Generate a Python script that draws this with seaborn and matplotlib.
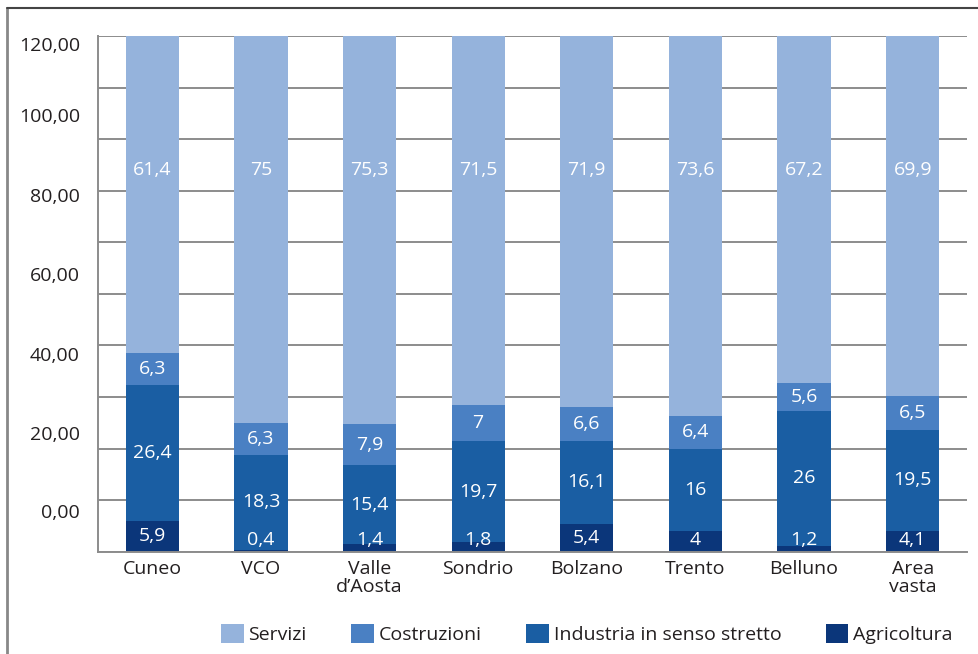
import matplotlib
matplotlib.use("Agg")
import matplotlib.pyplot as plt
from matplotlib.lines import Line2D
from matplotlib.patches import Patch
import seaborn as sns
import pandas as pd
import numpy as np

# ---- data ----
categories = ["Cuneo", "VCO", "Valle\nd\u2019Aosta", "Sondrio", "Bolzano", "Trento", "Belluno", "Area\nvasta"]
agricoltura = [5.9, 0.4, 1.4, 1.8, 5.4, 4.0, 1.2, 4.1]
industria = [26.4, 18.3, 15.4, 19.7, 16.1, 16.0, 26.0, 19.5]
costruzioni = [6.3, 6.3, 7.9, 7.0, 6.6, 6.4, 5.6, 6.5]
servizi = [61.4, 75.0, 75.3, 71.5, 71.9, 73.6, 67.2, 69.9]
series_names = ["Agricoltura", "Industria in senso stretto", "Costruzioni", "Servizi"]
ytick_labels = ["0,00", "20,00", "40,00", "60,00", "80,00", "100,00", "120,00"]

# ---- style ----
colors = {"Servizi": "#95B3DC", "Costruzioni": "#4A80C3",
          "Industria in senso stretto": "#1A5EA3", "Agricoltura": "#0B367A"}
ytick_pos = [7.9, 23.0, 38.4, 53.8, 69.2, 84.7, 98.4]
servizi_label_y = 74.0
min_label_y = 2.2
text_color = "#231F20"
grid_color = "#8C8C8C"

sns.set_theme(style="white")
plt.rcParams["font.family"] = ["Open Sans", "DejaVu Sans"]

df = pd.DataFrame({"cat": categories, "Agricoltura": agricoltura,
                   "Industria in senso stretto": industria,
                   "Costruzioni": costruzioni, "Servizi": servizi})
cum = df[series_names].cumsum(axis=1)

fig = plt.figure(figsize=(9.79, 6.54), dpi=100)
ax = fig.add_axes([98/979, 1-551.7/654, (967-98)/979, (551.7-36)/654])

# grid lines behind bars
for v in range(0, 101, 10):
    ax.axhline(v, color=grid_color, lw=1.4, zorder=0)

# stacked bars: draw cumulative totals from top series downwards
for name in reversed(series_names):
    sns.barplot(x=df["cat"], y=cum[name], color=colors[name], width=0.49,
                saturation=1, ax=ax, zorder=2, order=categories,
                linewidth=0, edgecolor="none")

# value labels
def fmt(v):
    s = f"{v:.1f}".replace(".", ",")
    return s[:-2] if s.endswith(",0") else s

vals = df[series_names]
for i in range(len(categories)):
    bottom = 0.0
    for name in series_names:
        v = vals[name].iloc[i]
        if name == "Servizi":
            y = servizi_label_y
        else:
            y = max(bottom + v / 2, min_label_y)
        ax.text(i, y, fmt(v), ha="center", va="center", color="white",
                fontsize=14, zorder=5, clip_on=True)
        bottom += v

ax.set_ylim(0, 100)
ax.set_xlim(-0.5, len(categories) - 0.5)
ax.set_yticks(ytick_pos)
ax.set_yticklabels(ytick_labels)
ax.tick_params(axis="y", length=0, pad=13, labelsize=14, labelcolor=text_color)
ax.tick_params(axis="x", length=0, pad=6, labelsize=14, labelcolor=text_color)
for lbl in ax.get_xticklabels():
    lbl.set_linespacing(1.0)
ax.set_xlabel("")
ax.set_ylabel("")
for side in ["top", "right"]:
    ax.spines[side].set_visible(False)
for side in ["left", "bottom"]:
    ax.spines[side].set_color(grid_color)
    ax.spines[side].set_linewidth(1.4)
    ax.spines[side].set_zorder(3)

handles = [Patch(facecolor=colors[n], edgecolor="none", label=n) for n in reversed(series_names)]
fig.legend(handles=handles, loc="center", bbox_to_anchor=(587/979, 1-634/654), ncol=4,
           frameon=False, fontsize=14, handlelength=1.15, handleheight=1.15,
           handletextpad=0.25, columnspacing=2.3, labelcolor=text_color)

# outer frame lines
fig.add_artist(Line2D([7/979, 7/979], [0, 1-8/654], transform=fig.transFigure, color="#888888", lw=2))
fig.add_artist(Line2D([7/979, 1], [1-8/654, 1-8/654], transform=fig.transFigure, color="#444444", lw=1.5))

fig.savefig("out.png", dpi=100)
